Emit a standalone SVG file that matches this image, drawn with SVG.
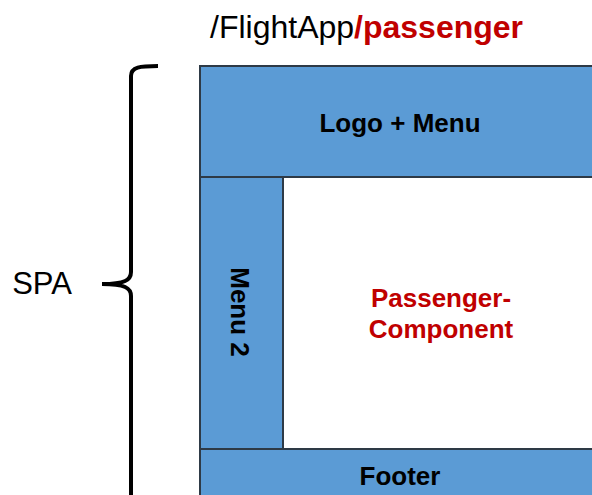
<svg xmlns="http://www.w3.org/2000/svg" width="592" height="495" viewBox="0 0 592 495">
<style>
.box{fill:#5B9BD5;stroke:#2E3A46;stroke-width:2}
.lbl{font-family:"Liberation Sans",Arial,sans-serif;font-weight:bold;font-size:26px;fill:#000;text-anchor:middle}
.red{fill:#C00000}
</style>
<rect x="0" y="0" width="592" height="495" fill="#fff"/>
<text x="210" y="38" font-family="'Liberation Sans',Arial,sans-serif" font-size="32" fill="#000">/FlightApp<tspan font-weight="bold" fill="#C00000">/passenger</tspan></text>
<g id="brace">
<path d="M158,66 C140,66 131,67 131,76 L131,272 C131,280 125,284 102,284 C125,284 131,288 131,296 L131,500" fill="none" stroke="#000" stroke-width="4"/>
</g>
<text x="42" y="294" font-family="'Liberation Sans',Arial,sans-serif" font-size="31" fill="#000" text-anchor="middle">SPA</text>
<g id="content">
<rect x="283" y="177" width="320" height="272" fill="#fff" stroke="#2E3A46" stroke-width="2"/>
<text class="lbl red" x="441" y="307">Passenger-</text>
<text class="lbl red" x="441" y="338">Component</text>
</g>
<g id="header">
<rect class="box" x="200" y="66" width="403" height="111"/>
<text class="lbl" x="400" y="132">Logo + Menu</text>
</g>
<g id="menu2">
<rect class="box" x="200" y="177" width="83" height="272"/>
<text class="lbl" transform="translate(231,312) rotate(90)" x="0" y="0">Menu 2</text>
</g>
<g id="footer">
<rect class="box" x="200" y="449" width="403" height="60"/>
<text class="lbl" x="400" y="485">Footer</text>
</g>
</svg>
